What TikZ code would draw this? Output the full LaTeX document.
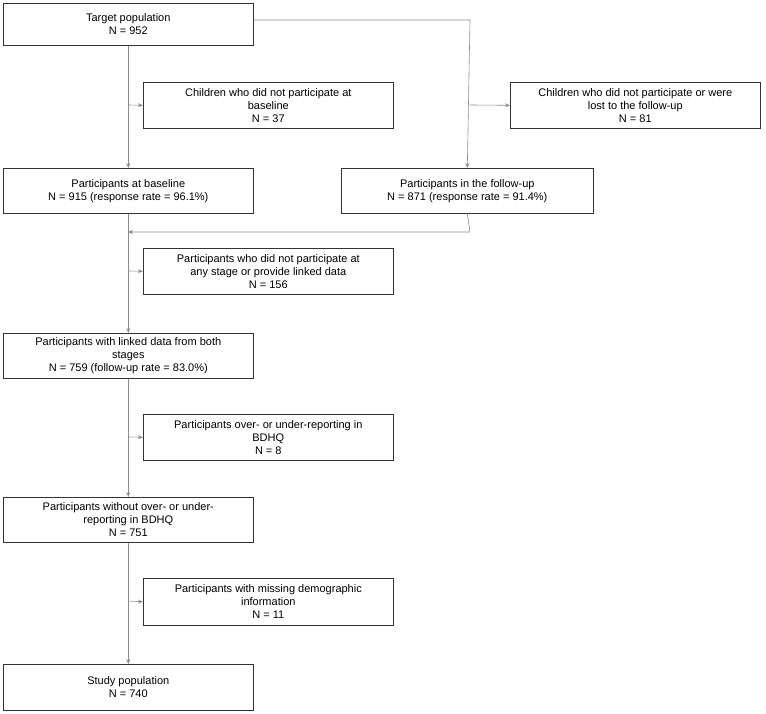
\documentclass[tikz,border=0pt]{standalone}
\usepackage{fontspec}
\setmainfont{Liberation Sans}
\usetikzlibrary{arrows.meta}
\begin{document}
\begin{tikzpicture}[x=1pt,y=-1pt,
  box/.style={draw=black!80,line width=0.6pt,anchor=north west,align=center,inner sep=1pt,font=\fontsize{11}{13}\selectfont,minimum height=45pt},
  ln/.style={draw=black!45,line width=0.6pt},
  ar/.style={ln,-{Stealth[length=5pt,width=4pt]}}]
\useasboundingbox (0,0) rectangle (766,714);
\node[box,minimum width=250pt,minimum height=42pt] (a) at (3,3) {Target population\\N = 952};
\node[box,minimum width=250pt,minimum height=46pt] (b) at (143,82) {Children who did not participate at\\baseline\\N = 37};
\node[box,minimum width=250pt,minimum height=46pt] (c) at (510,82) {Children who did not participate or were\\lost to the follow-up\\N = 81};
\node[box,minimum width=250pt] (d) at (3,168) {Participants at baseline\\N = 915 (response rate = 96.1\%)};
\node[box,minimum width=252pt] (e) at (341,168) {Participants in the follow-up\\N = 871 (response rate = 91.4\%)};
\node[box,minimum width=250pt,minimum height=46pt] (f) at (143,248) {Participants who did not participate at\\any stage or provide linked data\\N = 156};
\node[box,minimum width=250pt] (g) at (3,333) {Participants with linked data from both\\stages\\N = 759 (follow-up rate = 83.0\%)};
\node[box,minimum width=250pt,minimum height=46pt] (h) at (143,414) {Participants over- or under-reporting in\\BDHQ\\N = 8};
\node[box,minimum width=250pt] (i) at (3,497) {Participants without over- or under-\\reporting in BDHQ\\N = 751};
\node[box,minimum width=250pt,minimum height=47pt] (j) at (143,578) {Participants with missing demographic\\information\\N = 11};
\node[box,minimum width=250pt,minimum height=46pt] (k) at (3,664) {Study population\\N = 740};
\coordinate (p1) at (128,105);
\coordinate (p2) at (470,105);
\coordinate (p3) at (470,20);
\coordinate (p4) at (470,232);
\coordinate (p5) at (128,232);
\coordinate (p6) at (128,271);
\coordinate (p7) at (128,437);
\coordinate (p8) at (128,601);
\draw[ar] (a.south) -- (d.north);
\draw[ar] (p1) -- (b.west);
\draw[ar] (a.east|-p3) -- (p3) -- (e.north);
\draw[ar] (p2) -- (c.west);
\draw[ar] (e.south) -- (p4) -- (p5);
\draw[ar] (d.south) -- (g.north);
\draw[ar] (p6) -- (f.west);
\draw[ar] (g.south) -- (i.north);
\draw[ar] (p7) -- (h.west);
\draw[ar] (i.south) -- (k.north);
\draw[ar] (p8) -- (j.west);
\end{tikzpicture}
\end{document}
